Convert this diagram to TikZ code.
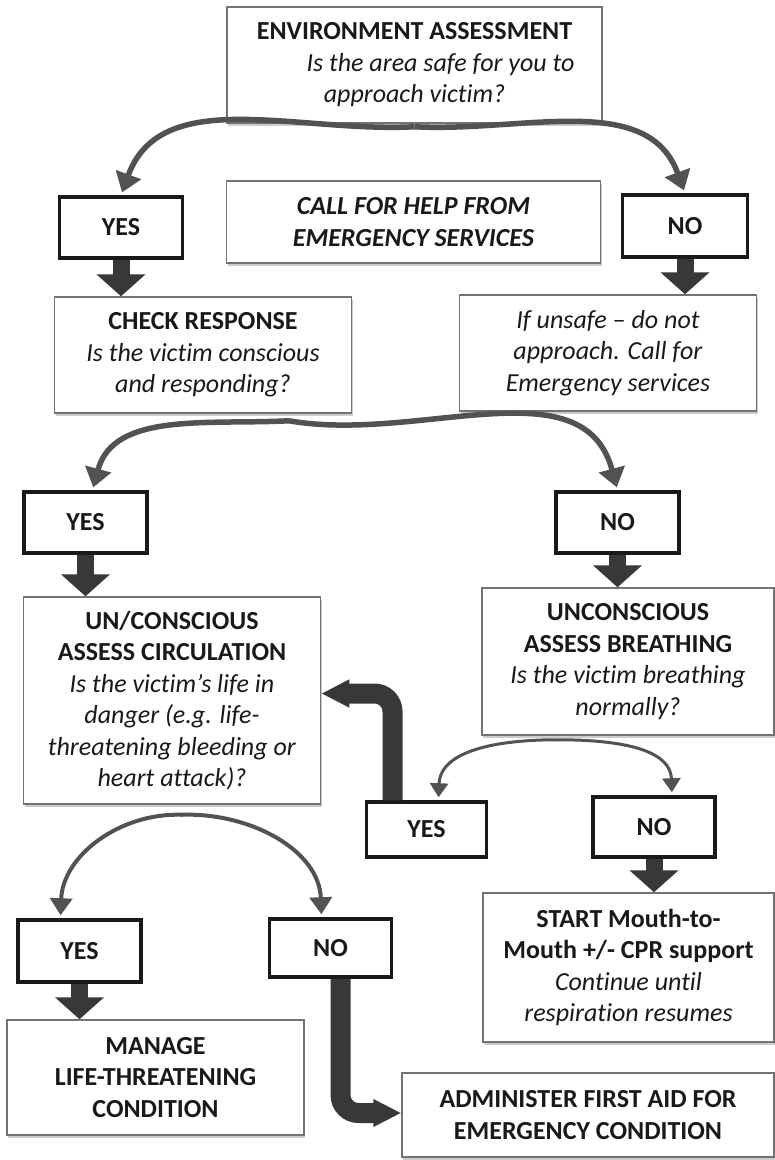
\documentclass[tikz,border=0pt]{standalone}
\usepackage{fontspec}
\setmainfont{Carlito}[Ligatures=CommonOff]
\usetikzlibrary{arrows.meta,shadows}

\tikzset{
  infobox/.style={draw=black!55, line width=1.5pt, fill=white, align=center,
    inner sep=0pt, text=black!90,
    drop shadow={shadow xshift=1pt, shadow yshift=-3pt, fill=black!40}},
  answer/.style={draw=black!90, line width=3.5pt, fill=white, align=center,
    inner sep=0pt, text=black!90, font=\fontsize{26}{31.5}\selectfont\bfseries,
    drop shadow={shadow xshift=1pt, shadow yshift=-2pt, fill=black!40}},
  arcarrow/.style={draw=black!68, line width=5.5pt, shorten >=3pt,
    -{Triangle[width=26pt,length=19pt]}},
  blockarrow/.style={draw=black!78, line width=17pt,
    -{Triangle[width=48pt,length=22pt]}},
  bentarrow/.style={draw=black!78, line width=20pt, rounded corners=18pt,
    -{Triangle[width=26pt,length=28pt]}}
}

\begin{document}
\begin{tikzpicture}[x=1pt, y=1pt, font=\fontsize{26}{31.5}\selectfont]

  \useasboundingbox (0,0) rectangle (775,-1160);

  %=====================================================================
  % Stage 1: environment
  %=====================================================================
  \node[infobox, minimum width=375pt, minimum height=116pt] (env) at (414.5,-65)
    {\textbf{ENVIRONMENT ASSESSMENT}\\\hspace*{52pt}\textit{Is the area safe for you to}\\\textit{approach victim?}};
  \node[infobox, minimum width=374pt, minimum height=82pt] (call) at (413.5,-222)
    {\textbf{\textit{CALL FOR HELP FROM}}\\\textbf{\textit{EMERGENCY SERVICES}}};
  \node[answer, minimum width=123pt, minimum height=61pt] (yesA) at (121,-227.5) {YES};
  \node[answer, minimum width=125pt, minimum height=62pt] (noA) at (685,-226) {NO};

  \draw[arcarrow] ([yshift=-3pt]env.south) to[out=183, in=70] (yesA.north);
  \draw[arcarrow] ([yshift=-3pt]env.south) to[out=-3, in=110] (noA.north);

  \node[infobox, minimum width=297pt, minimum height=116pt] (check) at (203,-355)
    {\textbf{CHECK RESPONSE}\\\textit{Is the victim conscious}\\\textit{and responding?}};
  \node[infobox, minimum width=297pt, minimum height=116pt] (unsafe) at (608,-353)
    {\textit{If unsafe -- do not}\\\textit{approach. Call for}\\\textit{Emergency services}};

  \draw[blockarrow] (yesA.south) -- (yesA.south |- check.north);
  \draw[blockarrow] (noA.south) -- (noA.south |- unsafe.north);

  %=====================================================================
  % Stage 2: response
  %=====================================================================
  \node[answer, minimum width=123pt, minimum height=61pt] (yesB) at (85.5,-522.5) {YES};
  \node[answer, minimum width=123pt, minimum height=61pt] (noB) at (617.5,-522.5) {NO};

  \draw[arcarrow] ([xshift=86pt, yshift=-7pt]check.south) to[out=183, in=75] ([xshift=7pt]yesB.north);
  \draw[arcarrow] ([xshift=86pt, yshift=-7pt]check.south) to[out=-10, in=105] (noB.north);

  \node[infobox, minimum width=297pt, minimum height=207pt] (circ) at (172,-700.5)
    {\textbf{UN/CONSCIOUS}\\\textbf{ASSESS CIRCULATION}\\\textit{Is the victim’s life in}\\
     \textit{danger (e.g. life-}\\\textit{threatening bleeding or}\\\textit{heart attack)?}};
  \node[infobox, minimum width=292pt, minimum height=147pt] (breath) at (628,-661.5)
    {\textbf{UNCONSCIOUS}\\\textbf{ASSESS BREATHING}\\\textit{Is the victim breathing}\\\textit{normally?}};

  \draw[blockarrow] (yesB.south) -- (yesB.south |- circ.north);
  \draw[blockarrow] (noB.south) -- (noB.south |- breath.north);

  %=====================================================================
  % Stage 3: breathing
  %=====================================================================
  \node[answer, minimum width=120pt, minimum height=55pt] (yesC) at (426.5,-829.5) {YES};
  \node[answer, minimum width=122pt, minimum height=60pt] (noC) at (654,-827) {NO};

  \draw[arcarrow, line width=3pt, -{Triangle[width=18pt,length=14pt]}]
    ([xshift=-71pt, yshift=-4pt]breath.south) to[out=180, in=88] ([xshift=12pt]yesC.north);
  \draw[arcarrow, line width=3pt, -{Triangle[width=18pt,length=14pt]}]
    ([xshift=-71pt, yshift=-4pt]breath.south) to[out=0, in=92] ([xshift=18pt]noC.north);

  \draw[bentarrow] ([xshift=-34pt]yesC.north) |- ([yshift=7pt]circ.east);

  \node[infobox, minimum width=291pt, minimum height=149pt] (start) at (628.5,-967.5)
    {\textbf{START Mouth-to-}\\\textbf{Mouth +/- CPR support}\\\textit{Continue until}\\\textit{respiration resumes}};

  \draw[blockarrow] (noC.south) -- (noC.south |- start.north);

  %=====================================================================
  % Stage 4: circulation
  %=====================================================================
  \node[answer, minimum width=123pt, minimum height=62pt] (yesD) at (79.5,-951) {YES};
  \node[answer, minimum width=122pt, minimum height=58pt] (noD) at (330.5,-948) {NO};

  \draw[arcarrow, line width=4pt, -{Triangle[width=22pt,length=17pt]}]
    ([xshift=10pt, yshift=-10pt]circ.south) to[out=178, in=88] ([xshift=-19pt]yesD.north);
  \draw[arcarrow, line width=4pt, -{Triangle[width=22pt,length=17pt]}]
    ([xshift=10pt, yshift=-10pt]circ.south) to[out=2, in=92] ([xshift=-9pt]noD.north);

  \node[infobox, minimum width=297pt, minimum height=115pt] (manage) at (155.5,-1077.5)
    {\textbf{MANAGE}\\\textbf{LIFE-THREATENING}\\\textbf{CONDITION}};
  \node[infobox, minimum width=372pt, minimum height=84pt] (admin) at (588,-1115)
    {\textbf{ADMINISTER FIRST AID FOR}\\\textbf{EMERGENCY CONDITION}};

  \draw[blockarrow] (yesD.south) -- (yesD.south |- manage.north);
  \draw[bentarrow] ([xshift=10pt]noD.south) |- ([yshift=2pt]admin.west);

\end{tikzpicture}
\end{document}
